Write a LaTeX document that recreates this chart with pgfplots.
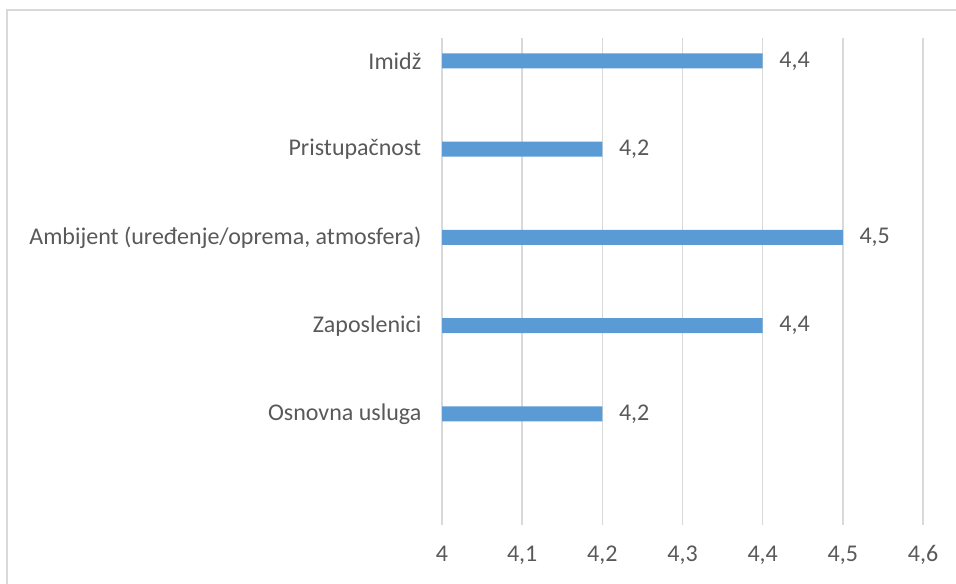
\documentclass[border=0pt]{standalone}
\usepackage{pgfplots}
\pgfplotsset{compat=1.18}
\usepackage{fontspec}
\setmainfont{Carlito}

\definecolor{barblue}{HTML}{5B9BD5}
\definecolor{txtgray}{HTML}{595959}
\definecolor{gridgray}{HTML}{D9D9D9}

\begin{document}
\begin{tikzpicture}[x=0.75pt,y=0.75pt]
  \useasboundingbox (0,0) rectangle (956,583);
  \draw[gridgray, line width=1.2pt] (7,-20) -- (7,573) -- (980,573);
  \begin{axis}[
      at={(442pt*0.75,58pt*0.75)}, anchor=south west,
      scale only axis,
      width=360.75pt, height=365.25pt,
      xbar, bar width=11.25pt, bar shift=0pt,
      xmin=4, xmax=4.6,
      ymin=-1.26, ymax=4.26,
      xtick={4,4.1,...,4.6},
      ytick={0,1,2,3,4},
      yticklabels={Osnovna usluga, Zaposlenici, {Ambijent (uređenje/oprema, atmosfera)}, Pristupačnost, Imidž},
      xmajorgrids, ymajorgrids=false,
      grid style={gridgray, line width=1.2pt},
      axis line style={draw=none},
      major tick length=0pt,
      tick label style={txtgray, font=\fontsize{18}{21}\selectfont},
      yticklabel style={xshift=-12pt},
      xticklabel style={yshift=-12pt},
      /pgf/number format/assume math mode=true,
      /pgf/number format/use comma,
      /pgf/number format/fixed,
      /pgf/number format/precision=1,
      nodes near coords,
      nodes near coords style={txtgray, font=\fontsize{18}{21}\selectfont, anchor=west, xshift=9pt,
        /pgf/number format/assume math mode=true, /pgf/number format/use comma,
        /pgf/number format/fixed, /pgf/number format/precision=1},
    ]
    \addplot[fill=barblue, draw=none] coordinates {
      (4.2,0) (4.4,1) (4.5,2) (4.2,3) (4.4,4)
    };
  \end{axis}
\end{tikzpicture}
\end{document}
